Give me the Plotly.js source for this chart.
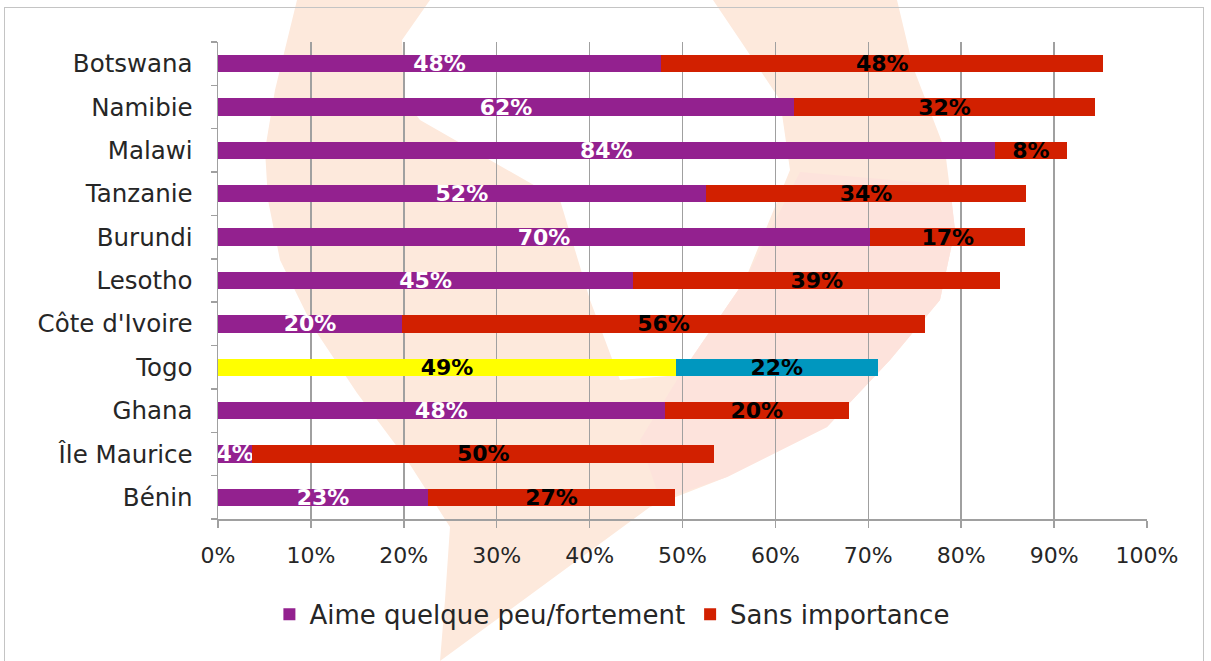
<!DOCTYPE html>
<html>
<head>
<meta charset="utf-8">
<script src="https://cdn.plot.ly/plotly-3.0.1.min.js"></script>
<style>
  html, body { margin: 0; padding: 0; background: #ffffff; overflow: hidden; }
  #wm { position: absolute; left: 0; top: 0; width: 1211px; height: 661px; }
  #frame { position: absolute; left: 4px; top: 7px; width: 1200px; height: 670px; border: 1.5px solid #c4c4c4; box-sizing: border-box; }
  #chart { position: absolute; left: 0; top: 0; width: 1211px; height: 661px; }
</style>
</head>
<body>
<svg id="wm" width="1211" height="661" xmlns="http://www.w3.org/2000/svg">
  <path d="M297,0 L430,0 L402,40 L405,100 L420,120 L560,200 L590,300 L620,380 L680,375 L745,280 L790,170 L780,100 L740,40 L713,0 L897,0 L913,67 L945,150 L955,230 L940,300 L890,360 L827,427 L727,477 L650,507 L440,661 L445,600 L450,527 L407,460 L357,393 L313,327 L280,260 L268,200 L265,150 L275,90 Z" fill="#fde9dc"/>
  <path d="M800,172 L950,185 L955,230 L940,300 L890,360 L827,427 L727,477 L660,500 L640,440 L680,375 L745,280 Z" fill="#fde3dc"/>
</svg>
<div id="frame"></div>
<div id="chart"></div>
<script>
// Categories from bottom to top (Plotly draws first category at bottom)
const countries = ["Bénin", "Île Maurice", "Ghana", "Togo", "Côte d'Ivoire", "Lesotho", "Burundi", "Tanzanie", "Malawi", "Namibie", "Botswana"];
const aime = [22.6, 3.7, 48.1, 49.3, 19.8, 44.7, 70.2, 52.5, 83.6, 62.0, 47.7];
const sans = [26.6, 49.7, 19.8, 21.7, 56.3, 39.5, 16.7, 34.5, 7.8, 32.4, 47.6];
const aimeLabels = ["23%", "4%", "48%", "49%", "20%", "45%", "70%", "52%", "84%", "62%", "48%"];
const sansLabels = ["27%", "50%", "20%", "22%", "56%", "39%", "17%", "34%", "8%", "32%", "48%"];
const tickVals = [0, 10, 20, 30, 40, 50, 60, 70, 80, 90, 100];
const tickText = ["0%", "10%", "20%", "30%", "40%", "50%", "60%", "70%", "80%", "90%", "100%"];
const seriesNames = ["Aime quelque peu/fortement", "Sans importance"];

const PURPLE = "#93218f", RED = "#d22000", YELLOW = "#ffff00", TEAL = "#0097bf";
const aimeColors = countries.map(c => c === "Togo" ? YELLOW : PURPLE);
const sansColors = countries.map(c => c === "Togo" ? TEAL : RED);
const aimeTextColors = countries.map(c => c === "Togo" ? "#000000" : "#ffffff");

const textFont = { family: "DejaVu Sans", size: 22, weight: "bold" };

const traces = [
  {
    type: "bar", orientation: "h", name: seriesNames[0],
    y: countries, x: aime, text: aimeLabels,
    marker: { color: aimeColors },
    textposition: "inside", insidetextanchor: "middle", constraintext: "none",
    textfont: Object.assign({}, textFont, { color: aimeTextColors }),
    hoverinfo: "none"
  },
  {
    type: "bar", orientation: "h", name: seriesNames[1],
    y: countries, x: sans, text: sansLabels,
    marker: { color: sansColors },
    textposition: "inside", insidetextanchor: "middle", constraintext: "none",
    textfont: Object.assign({}, textFont, { color: "#000000" }),
    hoverinfo: "none"
  }
];

const layout = {
  width: 1211, height: 661,
  barmode: "stack", bargap: 0.6,
  paper_bgcolor: "rgba(0,0,0,0)", plot_bgcolor: "rgba(0,0,0,0)",
  margin: { l: 218, r: 64, t: 42, b: 142, pad: 0 },
  font: { family: "DejaVu Sans", color: "#262626" },
  xaxis: {
    range: [0, 100], tickvals: tickVals, ticktext: tickText,
    showgrid: true, gridcolor: "#a0a0a0", gridwidth: 1.5,
    showline: true, linecolor: "#a0a0a0", linewidth: 2,
    ticks: "outside", ticklen: 7, tickcolor: "#a0a0a0", tickwidth: 1.5,
    tickfont: { family: "DejaVu Sans", size: 22, color: "#262626" },
    ticklabelstandoff: 9,
    zeroline: false, fixedrange: true
  },
  yaxis: {
    type: "category", categoryorder: "array", categoryarray: countries,
    showline: true, linecolor: "#a0a0a0", linewidth: 1.5,
    ticks: "outside", ticklen: 6, tickcolor: "#a0a0a0", tickwidth: 1.5,
    tickson: "boundaries", showgrid: false,
    tickfont: { family: "DejaVu Sans", size: 24.5, color: "#262626" },
    ticklabelstandoff: 19,
    fixedrange: true
  },
  legend: {
    orientation: "h", x: 0.424, xanchor: "center", y: -0.2, yanchor: "middle",
    font: { family: "DejaVu Sans", size: 26, color: "#262626" },
    traceorder: "normal", itemwidth: 30
  },
  showlegend: true
};

Plotly.newPlot("chart", traces, layout, { displayModeBar: false, staticPlot: true });
</script>
</body>
</html>
